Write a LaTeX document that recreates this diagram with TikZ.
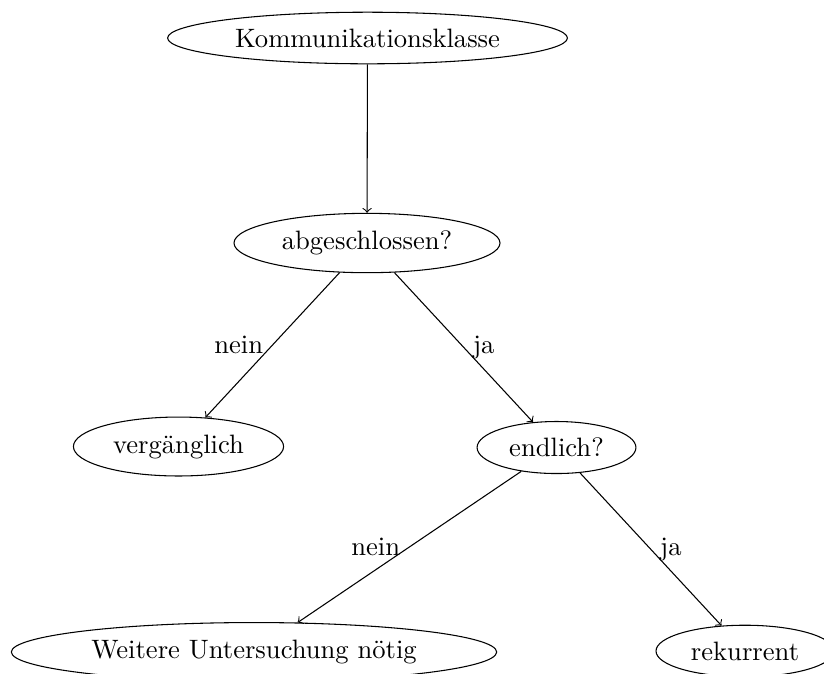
\documentclass[tikz,border=0pt]{standalone}
\usepackage{fontspec}
\usetikzlibrary{shapes.geometric}
\begin{document}
\begin{tikzpicture}[x=0.3759pt,y=-0.3759pt,
  box/.style={draw, ellipse},
  arr/.style={->}]
\useasboundingbox (0,0) rectangle (824,673);
\node[box] (k) at (367.5,38) {Kommunikationsklasse};
\node[box] (a) at (367,243) {abgeschlossen?};
\node[box] (v) at (178.5,446.5) {vergänglich};
\node[box] (e) at (556.5,447.5) {endlich?};
\node[box] (w) at (254,652) {Weitere Untersuchung nötig};
\node[box] (r) at (745,651) {rekurrent};
\draw[arr] (k) -- (a);
\draw[arr] (a) -- node[left] {nein} (v);
\draw[arr] (a) -- node[right] {ja} (e);
\draw[arr] (e) -- node[left] {nein} (w);
\draw[arr] (e) -- node[right] {ja} (r);
\end{tikzpicture}
\end{document}
